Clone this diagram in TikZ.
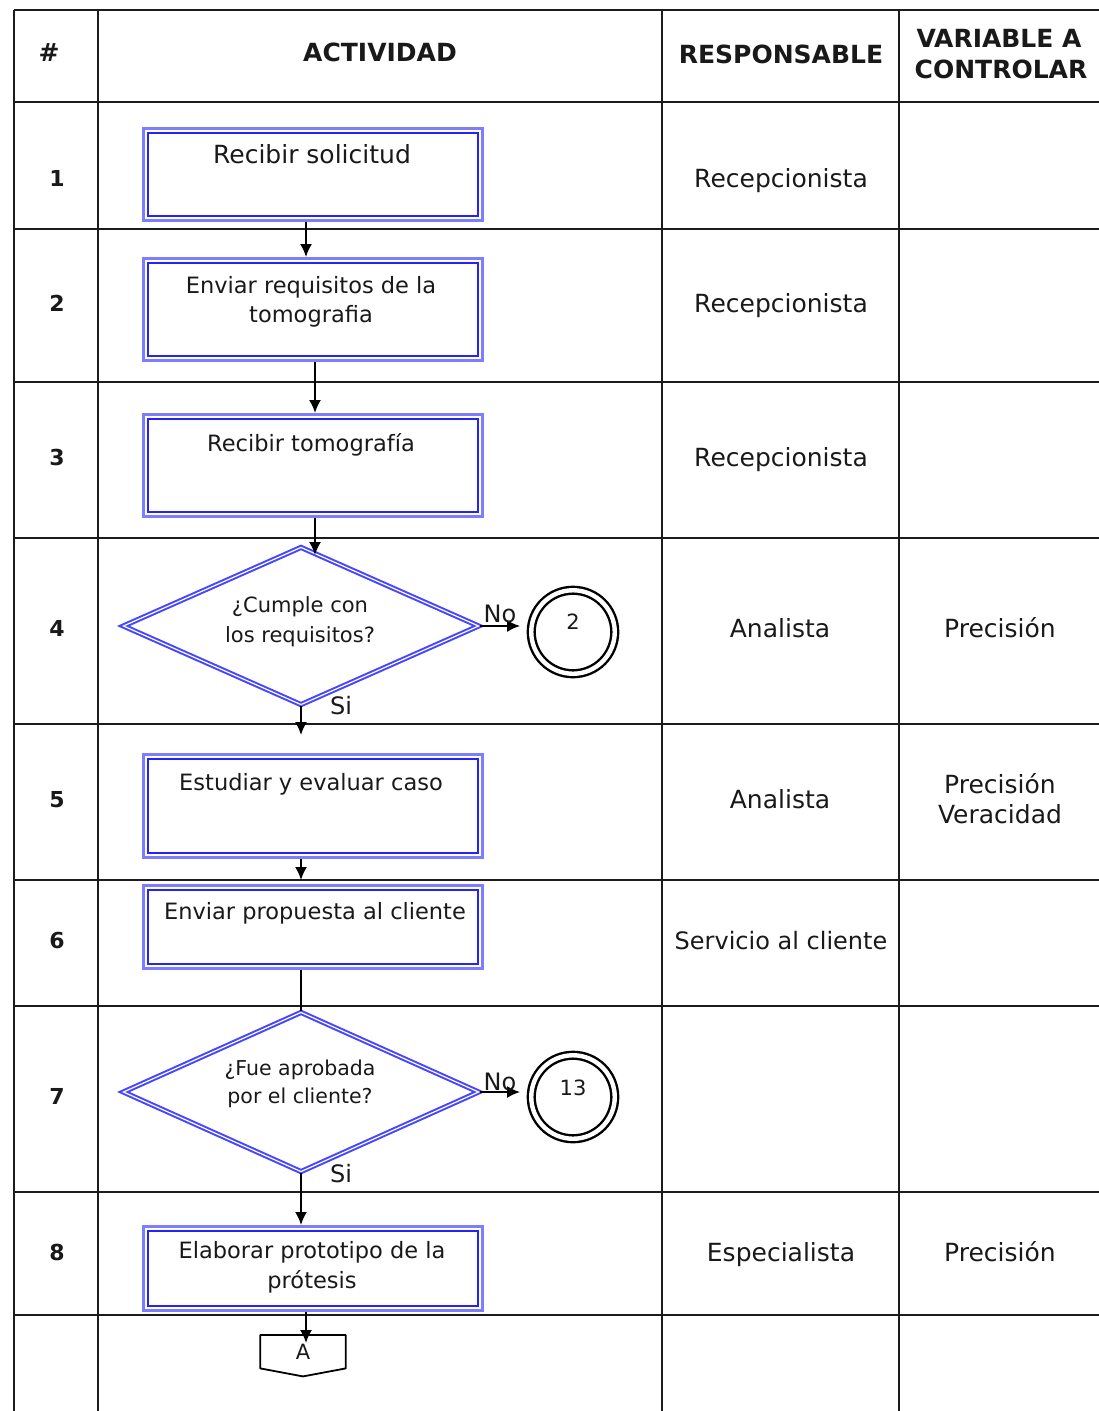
\documentclass[tikz,border=0pt]{standalone}
\usepackage{fontspec}
\setmainfont{DejaVu Sans}
\usetikzlibrary{shapes.geometric,arrows.meta}
\definecolor{gridline}{RGB}{28,28,28}
\definecolor{bandblue}{RGB}{125,125,255}
\definecolor{coreblue}{RGB}{35,35,250}
\definecolor{diablue}{RGB}{70,70,255}
\definecolor{ink}{RGB}{25,25,25}
\begin{document}
\begin{tikzpicture}[x=1pt,y=-1pt,
  grid/.style={draw=gridline,line width=2pt},
  procbox/.style={draw=bandblue,line width=3pt,minimum width=339pt,inner sep=0pt,
    path picture={\draw[coreblue,line width=1.7pt]
      ([shift={(4.5pt,-4.5pt)}]path picture bounding box.north west) rectangle
      ([shift={(-4.5pt,4.5pt)}]path picture bounding box.south east);}},
  decision/.style={diamond,draw=diablue,double=white,double distance=1.2pt,
    line width=2pt,inner sep=0pt,minimum width=356pt},
  ring/.style={circle,draw=black,line width=2.4pt,double=white,double distance=4.4pt,
    minimum size=83.5pt,inner sep=0pt},
  conn/.style={draw=black,line width=1.8pt},
  arr/.style={conn,-{Latex[length=13pt,width=12pt]}},
  hdr/.style={font=\bfseries\fontsize{25}{30}\selectfont,text=ink,anchor=base,inner sep=0pt},
  num/.style={font=\bfseries\fontsize{22}{26}\selectfont,text=ink,anchor=base,inner sep=0pt},
  cell/.style={font=\fontsize{25}{30}\selectfont,text=ink,anchor=base,inner sep=0pt},
  btext/.style={font=\fontsize{22.5}{30}\selectfont,text=ink,anchor=base,inner sep=0pt},
  dtext/.style={font=\fontsize{21}{30}\selectfont,text=ink,anchor=base,inner sep=0pt},
  small/.style={font=\fontsize{21}{26}\selectfont,text=ink,anchor=base,inner sep=0pt}]

\useasboundingbox (0,0) rectangle (1099,1411);

% table grid
\foreach \yy in {10,102,229,382,538,724,880,1006,1192,1315}
  \draw[grid] (14,\yy) -- (1099,\yy);
\foreach \xx in {14,98,662,899}
  \draw[grid] (\xx,10) -- (\xx,1411);

% header
\node[hdr] (h1) at (49,61) {\#};
\node[hdr] (h2) at (380,61) {ACTIVIDAD};
\node[hdr] (h3) at (781,63) {RESPONSABLE};
\node[hdr] (h4) at (999,47) {VARIABLE A};
\node[hdr] (h5) at (1001,78) {CONTROLAR};

% row numbers
\node[num] (n1) at (57,186) {1};
\node[num] (n2) at (57,311) {2};
\node[num] (n3) at (57,465) {3};
\node[num] (n4) at (57,636) {4};
\node[num] (n5) at (57,807) {5};
\node[num] (n6) at (57,948) {6};
\node[num] (n7) at (57,1104) {7};
\node[num] (n8) at (57,1260) {8};

% responsible
\node[cell] (r1) at (781,187) {Recepcionista};
\node[cell] (r2) at (781,312) {Recepcionista};
\node[cell] (r3) at (781,466) {Recepcionista};
\node[cell] (r4) at (780,637) {Analista};
\node[cell] (r5) at (780,808) {Analista};
\node[cell,font=\fontsize{24}{30}\selectfont] (r6) at (781,949) {Servicio al cliente};
\node[cell] (r8) at (781,1261) {Especialista};

% variables to control
\node[cell] (v4) at (1000,637) {Precisión};
\node[cell] (v5a) at (1000,793) {Precisión};
\node[cell] (v5b) at (1000,823) {Veracidad};
\node[cell] (v8) at (1000,1261) {Precisión};

% activity boxes
\node[procbox,minimum height=92pt]  (b1) at (313,174.5) {};
\node[procbox,minimum height=102pt] (b2) at (313,309.5) {};
\node[procbox,minimum height=102pt] (b3) at (313,465.5) {};
\node[procbox,minimum height=103pt] (b5) at (313,806) {};
\node[procbox,minimum height=83pt]  (b6) at (313,927) {};
\node[procbox,minimum height=84pt]  (b8) at (313,1268.5) {};

\node[btext,font=\fontsize{25}{30}\selectfont] (t1) at (312,163) {Recibir solicitud};
\node[btext] (t2a) at (311,293) {Enviar requisitos de la};
\node[btext] (t2b) at (311,322) {tomografia};
\node[btext] (t3) at (311,451) {Recibir tomografía};
\node[btext] (t5) at (311,790) {Estudiar y evaluar caso};
\node[btext] (t6) at (315,919) {Enviar propuesta al cliente};
\node[btext] (t8a) at (312,1258) {Elaborar prototipo de la};
\node[btext] (t8b) at (312,1288) {prótesis};

% decisions
\node[decision,minimum height=158pt] (d4) at (301,626) {};
\node[dtext] (q4a) at (300,612) {¿Cumple con};
\node[dtext] (q4b) at (300,642) {los requisitos?};
\node[decision,minimum height=160pt] (d7) at (301,1092) {};
\node[dtext,font=\fontsize{20.5}{30}\selectfont] (q7a) at (300,1075) {¿Fue aprobada};
\node[dtext,font=\fontsize{20.5}{30}\selectfont] (q7b) at (300,1103) {por el cliente?};

% page connectors
\node[ring] (c4) at (573,632) {};
\node[small] (c4t) at (573,629) {2};
\node[ring] (c7) at (573,1097) {};
\node[small] (c7t) at (573,1095) {13};

% off-page connector
\node[minimum width=85pt,minimum height=33pt,inner sep=0pt,anchor=north,
      font=\fontsize{21}{26}\selectfont,text=ink] (offA) at (303,1335) {A};
\draw[conn,line width=1.8pt,line join=round] (offA.north west) -- (offA.north east) -- (offA.south east)
  -- ([yshift=-8pt]offA.south) -- (offA.south west) -- cycle;

% flow
\draw[arr] ([xshift=-7pt]b1.south) -- ([xshift=-7pt]b2.north);
\draw[arr] ([xshift=2pt]b2.south) -- ([xshift=2pt]b3.north);
\draw[arr,shorten >=-9pt] ([xshift=2pt]b3.south) -- ([xshift=2pt]b3.south |- d4.north);
\draw[arr,shorten >=18pt] (d4.south) -- (d4.south |- b5.north);
\draw[arr,shorten >=4pt] (d4.south |- b5.south) -- (d4.south |- b6.north);
\draw[conn] (d7.north |- b6.south) -- (d7.north);
\draw[arr] (d7.south) -- (d7.south |- b8.north);
\draw[arr,shorten >=-8pt] ([xshift=-7pt]b8.south) -- ([xshift=-7pt]b8.south |- offA.north);
\draw[arr,shorten >=10pt] (d4.east) -- (d4.east -| c4.west);
\draw[arr,shorten >=10pt] (d7.east) -- (d7.east -| c7.west);

% branch labels
\node[cell,font=\fontsize{24}{30}\selectfont] (no4) at (500,622) {No};
\node[cell,font=\fontsize{24}{30}\selectfont] (si4) at (341,714) {Si};
\node[cell,font=\fontsize{24}{30}\selectfont] (no7) at (500,1090) {No};
\node[cell,font=\fontsize{24}{30}\selectfont] (si7) at (341,1182) {Si};
\end{tikzpicture}
\end{document}
